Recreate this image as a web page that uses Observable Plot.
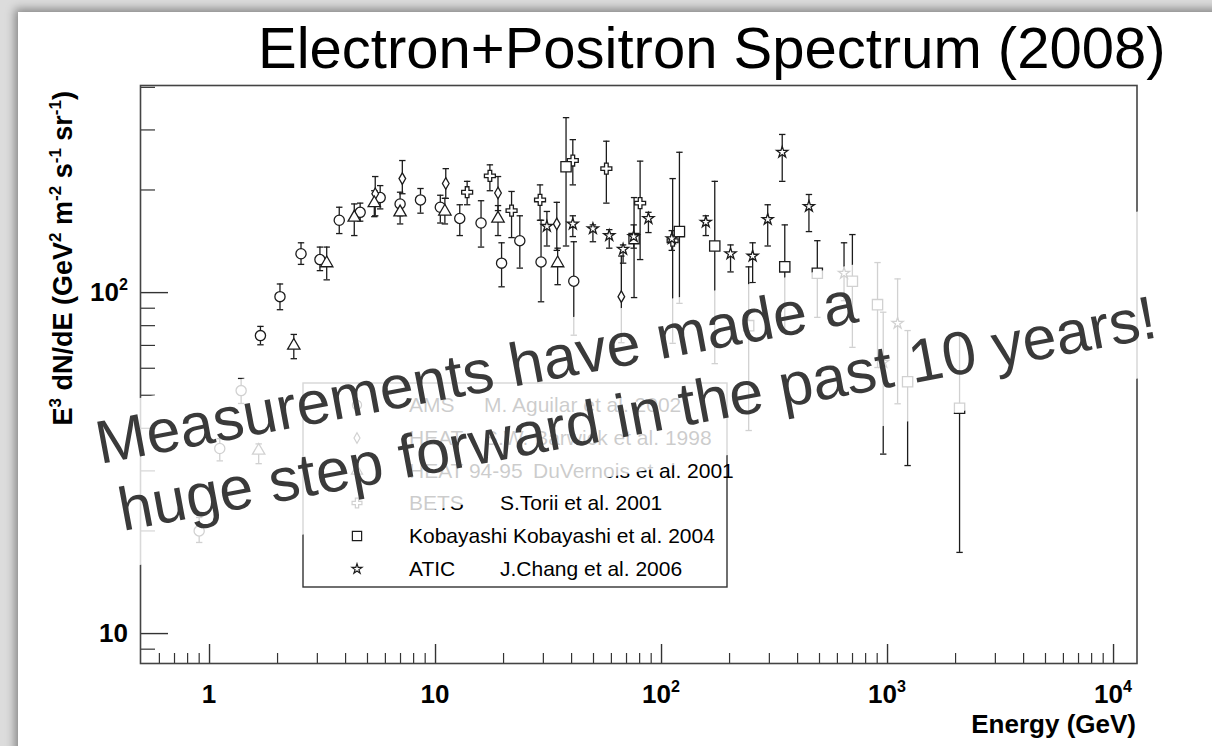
<!DOCTYPE html>
<html><head><meta charset="utf-8">
<script src="https://cdn.jsdelivr.net/npm/d3@7"></script>
<script src="https://cdn.jsdelivr.net/npm/@observablehq/plot@0.6"></script>
<style>
html,body{margin:0;padding:0;width:1212px;height:746px;overflow:hidden;background:#dcdcdc;font-family:"Liberation Sans",Arial,sans-serif;}
#slide{position:absolute;left:18px;top:12px;width:1300px;height:800px;background:#fff;box-shadow:0 0 9px 3px rgba(0,0,0,0.40);}
#chart{position:absolute;left:0;top:0;}
#overlay{position:absolute;left:0;top:0;}
</style></head><body>
<div id="slide"></div>
<div id="chart"></div>
<svg id="overlay" width="1212" height="746"></svg>
<script>
// ---------------- data (E in GeV, E^3 dN/dE with lower/upper error ends) ----------------
const amsE  = [0.90, 1.11, 1.38, 1.68, 2.05, 2.54, 3.08, 3.75, 4.64, 5.69, 6.97, 8.58, 10.5, 12.8, 15.9, 19.6, 23.6, 29.3, 40.9];
const amsF  = [20.0, 34.9, 51.6, 74.8, 97.3, 130, 125, 163, 172, 190, 182, 187, 178, 165, 160, 122, 142, 123, 108];
const amsLo = [18.5, 32.1, 47.3, 70.3, 89.1, 121, 116, 149, 162, 176, 168, 171, 160, 147, 136, 104, 118, 94, 75];
const amsHi = [21.9, 37.3, 56.0, 79.6, 106, 140, 136, 178, 183, 206, 197, 202, 193, 181, 186, 140, 168, 163, 141];

const heatE  = [5.41, 7.13, 11.1, 18.9, 34.4, 66.4];
const heatF  = [195, 216, 209, 196, 159, 97.3];
const heatLo = [168, 195, 189, 174, 133, 71.3];
const heatHi = [219, 244, 231, 219, 184, 128];

const heat95E  = [1.65, 2.36, 3.30, 4.37, 5.36, 6.97, 11.0, 18.9, 34.7];
const heat95F  = [34.4, 69.9, 122, 166, 183, 172, 173, 165, 122];
const heat95Lo = [31.5, 64.0, 109, 147, 167, 159, 159, 147, 105.5];
const heat95Hi = [36.0, 75.4, 136, 182, 199, 182, 189, 180, 135];

const betsE  = [13.8, 17.4, 21.7, 29.0, 40.5, 57.0, 80.4, 112];
const betsF  = [197, 220, 174, 187, 244, 231, 183, 142];
const betsLo = [181, 199, 145, 163, 207, 183, 125, 71];
const betsHi = [212, 237, 198, 207, 281, 278, 243, 216];

const kobE  = [37.8, 75.6, 120, 172, 243, 351, 489, 699, 903, 1227, 2083];
const kobF  = [234, 144, 151, 137, 80.0, 119, 114, 108, 92.2, 54.8, 45.8];
const kobLo = [137, 96.7, 93.0, 61.9, 39.4, 76.5, 84.6, 69.1, 60.3, 31.1, 17.3];
const kobHi = [326, 190, 258, 212, 119, 158, 142, 148, 122.5, 77.4, 75.8];

const aticE  = [31.1, 40.5, 49.7, 58.7, 67.6, 75.3, 87.5, 111, 157, 202, 253, 295, 342, 449, 642, 957, 1108];
const aticF  = [156.5, 159, 154, 147, 134, 146, 165, 144, 161, 130, 128, 164, 258, 179, 114, 62.5, 81.3];
const aticLo = [137, 146, 141, 135, 122, 135, 150, 133, 147, 115, 107, 137, 212, 151, 94.7, 33.6, 47.2];
const aticHi = [173, 168, 158, 153, 138, 158, 172, 152, 168, 138, 140, 181, 291, 194, 140, 87.6, 109.7];

const setNames   = ["AMS", "HEAT", "HEAT 94-95", "BETS", "Kobayashi", "ATIC"];
const setRefs    = ["M. Aguilar et al. 2002", "S.W. Barwick et al. 1998", "DuVernois et al. 2001", "S.Torii et al. 2001", "Kobayashi et al. 2004", "J.Chang et al. 2006"];
const setSymbols = ["circle", "diamond", "triangle", "cross", "square", "star"];

const xMajorTicks = [1, 10, 100, 1000, 10000];
const xTickLabels = [["1", ""], ["10", ""], ["10", "2"], ["10", "3"], ["10", "4"]];
const yMajorTicks = [10, 100];
const yTickLabels = [["10", ""], ["10", "2"]];

const titleText  = "Electron+Positron Spectrum (2008)";
const noteLines  = ["Measurements have made a", "huge step forward in the past 10 years!"];

// ---------------- build ----------------
const seriesData = [
  [amsE, amsF, amsLo, amsHi], [heatE, heatF, heatLo, heatHi], [heat95E, heat95F, heat95Lo, heat95Hi],
  [betsE, betsF, betsLo, betsHi], [kobE, kobF, kobLo, kobHi], [aticE, aticF, aticLo, aticHi]
];
const rows = seriesData.flatMap(([E, F, lo, hi], s) =>
  E.map((e, i) => ({set: setNames[s], symbol: setSymbols[s], E: e, F: F[i], lo: lo[i], hi: hi[i]})));

const xMinorTicks = [];
for (const d of [0.1, 1, 10, 100, 1000]) for (let k = 2; k <= 9; k++) { const v = k * d; if (v > 0.5 && v < 12700) xMinorTicks.push(v); }
const yMinorTicks = [];
for (const d of [1, 10, 100]) for (let k = 2; k <= 9; k++) { const v = k * d; if (v > 8.2 && v < 405) yMinorTicks.push(v); }

const W = 1212, H = 746, mL = 140, mR = 75.5, mT = 85, mB = 83;
const frameW = W - mL - mR, frameH = H - mT - mB;
const ink = "#1c1c1c";
const FONT = "'Liberation Sans', Arial, sans-serif";
const capSymbol = {draw(ctx) { ctx.moveTo(-3.2, 0); ctx.lineTo(3.2, 0); }};
const symbolR = {circle: 5.1, diamond: 3.5, triangle: 4.6, cross: 4.6, square: 5.8, star: 3.5};

const marks = [
  Plot.ruleX(xMajorTicks, {insetTop: frameH - 19, stroke: "#333", strokeWidth: 1.4}),
  Plot.ruleX(xMinorTicks, {insetTop: frameH - 10, stroke: "#333", strokeWidth: 1.2}),
  Plot.ruleY(yMajorTicks, {insetRight: frameW - 28, stroke: "#333", strokeWidth: 1.4}),
  Plot.ruleY(yMinorTicks, {insetRight: frameW - 15, stroke: "#333", strokeWidth: 1.2}),
  Plot.frame({stroke: "#444", strokeWidth: 1.6}),
  Plot.ruleX(rows, {x: "E", y1: "lo", y2: "hi", stroke: ink, strokeWidth: 1.3}),
  Plot.dot(rows, {x: "E", y: "lo", symbol: capSymbol, stroke: ink, strokeWidth: 1.3, r: 3}),
  Plot.dot(rows, {x: "E", y: "hi", symbol: capSymbol, stroke: ink, strokeWidth: 1.3, r: 3})
];
for (const sym of setSymbols) {
  marks.push(Plot.dot(rows.filter(d => d.symbol === sym), {x: "E", y: "F", symbol: "symbol", r: symbolR[sym], fill: "white", stroke: ink, strokeWidth: 1.3}));
}

const plot = Plot.plot({
  width: W, height: H, marginLeft: mL, marginRight: mR, marginTop: mT, marginBottom: mB,
  style: {background: "transparent", overflow: "visible"},
  x: {type: "log", domain: [0.495, 12700], axis: null},
  y: {type: "log", domain: [8.17, 405], axis: null},
  marks
});
document.getElementById("chart").appendChild(plot);

const svg = d3.select(plot);
const xs = plot.scale("x"), ys = plot.scale("y");

function supText(g, base, sup, size) {
  const t = g.append("text").attr("font-size", size).attr("font-family", FONT).attr("font-weight", "bold").attr("fill", "#000");
  t.append("tspan").text(base);
  if (sup) t.append("tspan").attr("font-size", size * 0.62).attr("dy", -size * 0.42).text(sup);
  return t;
}
// x tick labels
xMajorTicks.forEach((v, i) => {
  supText(svg, xTickLabels[i][0], xTickLabels[i][1], 26)
    .attr("x", xs.apply(v)).attr("y", 703).attr("text-anchor", "middle");
});
// y tick labels
yMajorTicks.forEach((v, i) => {
  supText(svg, yTickLabels[i][0], yTickLabels[i][1], 26)
    .attr("x", 128).attr("y", ys.apply(v) + 9).attr("text-anchor", "end");
});
// axis titles
svg.append("text").attr("x", 1136).attr("y", 733).attr("text-anchor", "end")
  .attr("font-size", 26).attr("font-weight", "bold").attr("font-family", FONT).attr("fill", "#000").text("Energy (GeV)");
{
  const t = svg.append("text").attr("transform", "translate(72,91) rotate(-90)").attr("text-anchor", "end")
    .attr("font-size", 27).attr("font-weight", "bold").attr("font-family", FONT).attr("fill", "#000");
  const parts = [["E", ""], ["3", "sup"], [" dN/dE (GeV", ""], ["2", "sup"], [" m", ""], ["-2", "sup"], [" s", ""], ["-1", "sup"], [" sr", ""], ["-1", "sup"], [")", ""]];
  let up = false;
  for (const [s, k] of parts) {
    const sp = t.append("tspan").text(s);
    if (k === "sup") { sp.attr("font-size", 17).attr("dy", up ? 0 : -11); up = true; }
    else { if (up) sp.attr("dy", 11); up = false; }
  }
}

// legend
const lg = svg.append("g").attr("text-anchor", "start");
lg.append("rect").attr("x", 303).attr("y", 383).attr("width", 424).attr("height", 204)
  .attr("fill", "white").attr("stroke", "#333").attr("stroke-width", 1.4);
const rowY = [405, 438, 471, 503, 536, 569];
const refX = [484, 484, 533, 500, null, 500];
const d3sym = {circle: d3.symbolCircle, diamond: d3.symbolDiamond, triangle: d3.symbolTriangle, cross: d3.symbolCross, square: d3.symbolSquare, star: d3.symbolStar};
setNames.forEach((name, i) => {
  const sym = setSymbols[i];
  const r = symbolR[sym] * 0.9;
  lg.append("path").attr("d", d3.symbol(d3sym[sym], Math.PI * r * r)())
    .attr("transform", `translate(357,${rowY[i]})`).attr("fill", "white").attr("stroke", ink).attr("stroke-width", 1.2);
  if (refX[i] === null) {
    lg.append("text").attr("x", 409).attr("y", rowY[i] + 7).attr("text-anchor", "start").attr("font-size", 21)
      .attr("font-family", FONT).attr("fill", "#000").text(name + " " + setRefs[i]);
  } else {
    lg.append("text").attr("x", 409).attr("y", rowY[i] + 7).attr("text-anchor", "start").attr("font-size", 21)
      .attr("font-family", FONT).attr("fill", "#000").text(name);
    lg.append("text").attr("x", refX[i]).attr("y", rowY[i] + 7).attr("text-anchor", "start").attr("font-size", 21)
      .attr("font-family", FONT).attr("fill", "#000").text(setRefs[i]);
  }
});

// ---------------- overlay: title, fading band, note ----------------
const ov = d3.select("#overlay");
ov.append("text").attr("x", 258).attr("y", 68).attr("font-size", 58)
  .attr("font-family", FONT).attr("fill", "#000").text(titleText);
const slope = 0.187, x0 = 140, topY0 = 398, botY0 = 565;
const xa = 85, xb = 1190;
const pts = [[xa, topY0 - slope * (xa - x0)], [xb, topY0 - slope * (xb - x0)], [xb, botY0 - slope * (xb - x0)], [xa, botY0 - slope * (xa - x0)]];
ov.append("polygon").attr("points", pts.map(p => p.join(",")).join(" ")).attr("fill", "white").attr("fill-opacity", 0.8);
const ng = ov.append("g").attr("transform", "translate(100,464) rotate(-10.6)")
  .attr("font-family", FONT).attr("font-size", 61).attr("fill", "#3a3a3a");
ng.append("text").attr("x", 0).attr("y", 0).text(noteLines[0]);
ng.append("text").attr("x", 10).attr("y", 70).text(noteLines[1]);
</script>
</body></html>
